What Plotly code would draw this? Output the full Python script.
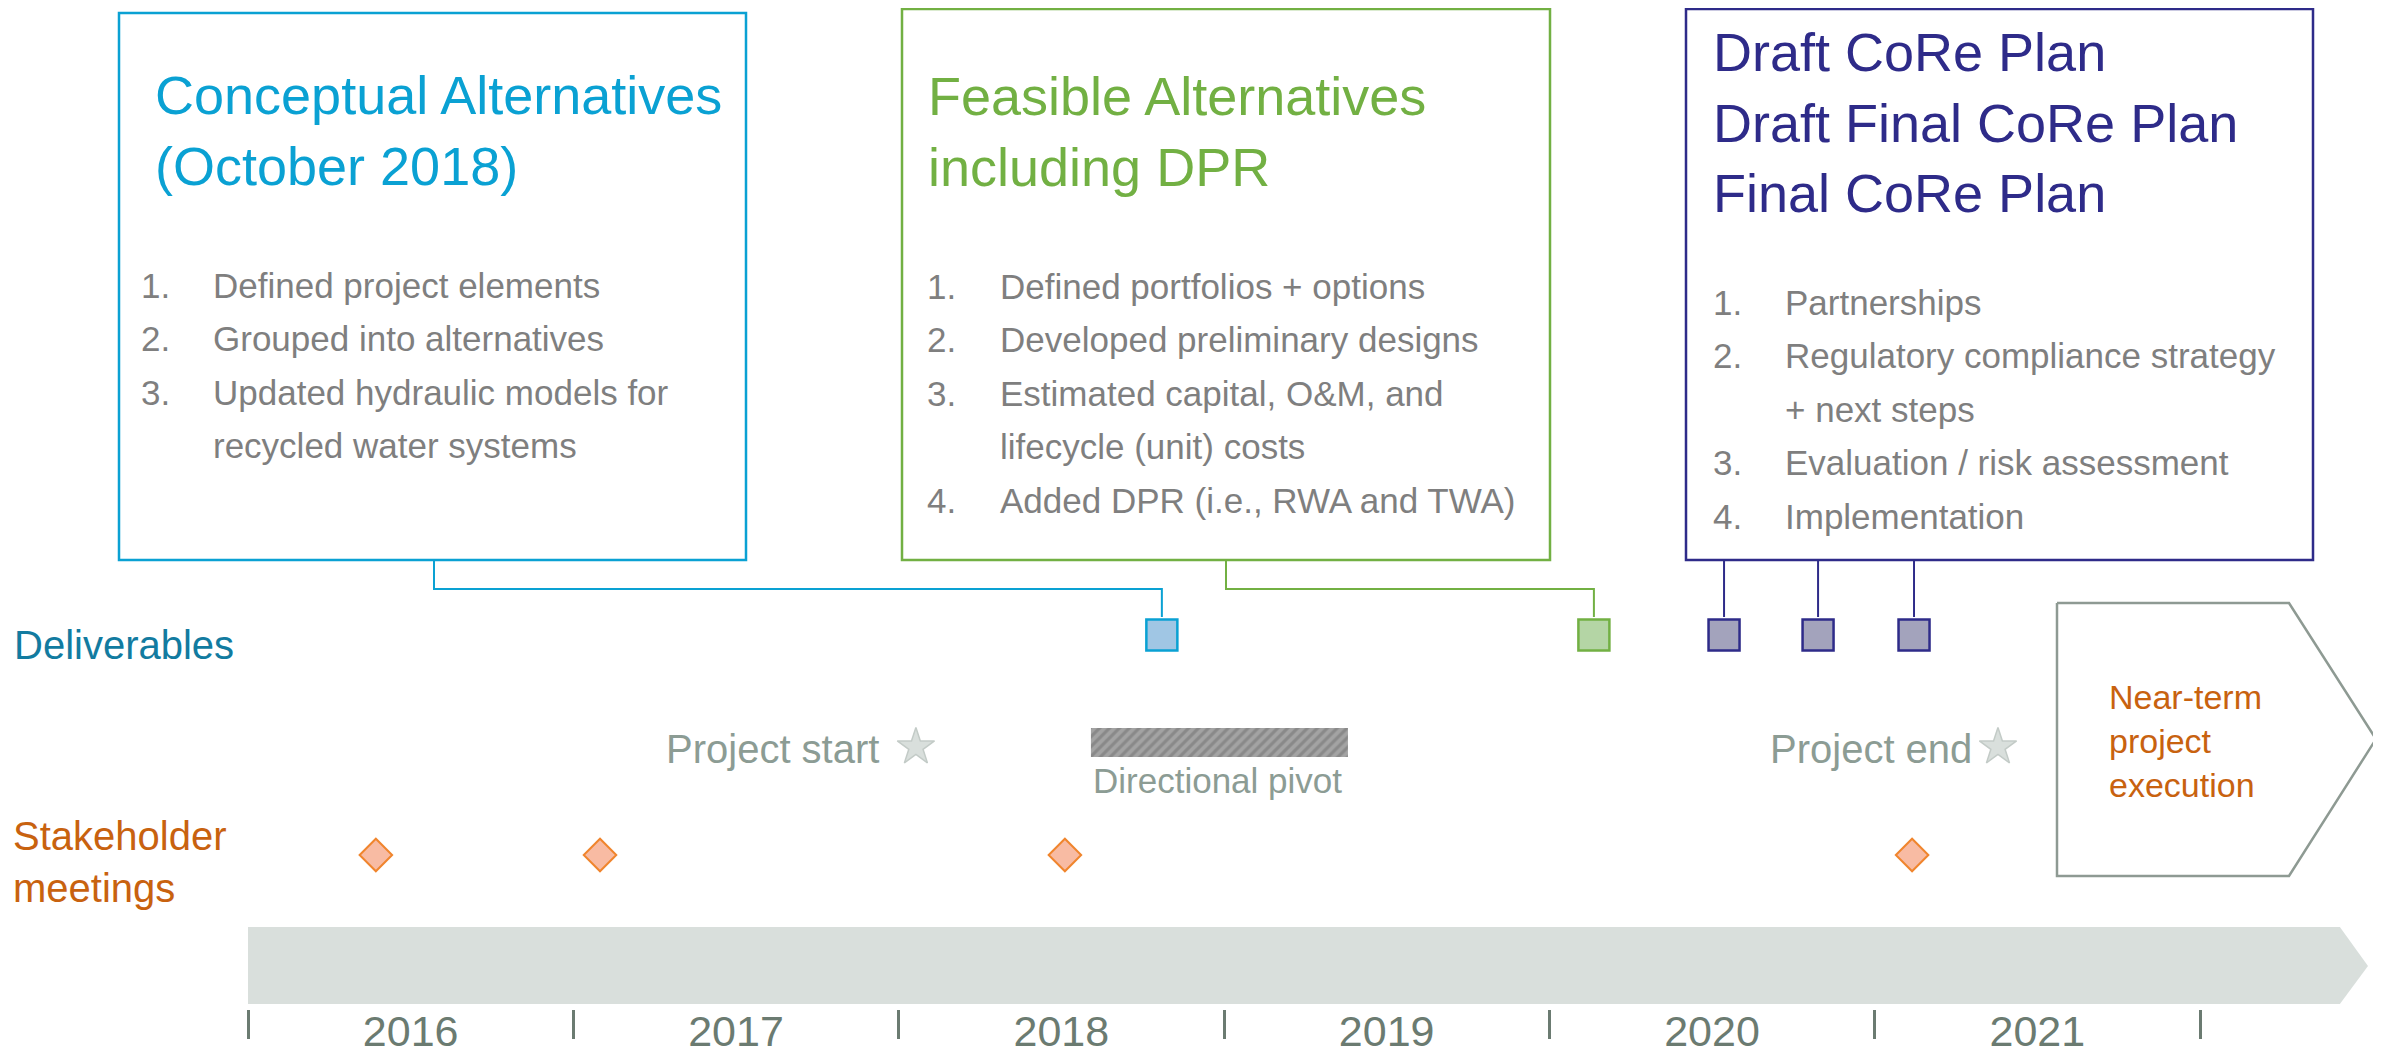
import plotly.graph_objects as go

# ---- data (decimal years) ----
years = [2016, 2017, 2018, 2019, 2020, 2021]
deliverable_dates = [2018.809, 2020.137, 2020.537, 2020.826, 2021.121]
deliverable_phase = [0, 1, 2, 2, 2]
meeting_dates = [2016.393, 2017.082, 2018.511, 2021.115]
milestone_names = ["Project start", "Project end"]
milestone_dates = [2018.053, 2021.379]
pivot_start, pivot_end = 2018.591, 2019.381
timeline_end = 2022.43

phase_titles = [
    ["Conceptual Alternatives", "(October 2018)"],
    ["Feasible Alternatives", "including DPR"],
    ["Draft CoRe Plan", "Draft Final CoRe Plan", "Final CoRe Plan"],
]
phase_items = [
    ["Defined project elements",
     "Grouped into alternatives",
     "Updated hydraulic models for<br>recycled water systems"],
    ["Defined portfolios + options",
     "Developed preliminary designs",
     "Estimated capital, O&M, and<br>lifecycle (unit) costs",
     "Added DPR (i.e., RWA and TWA)"],
    ["Partnerships",
     "Regulatory compliance strategy<br>+ next steps",
     "Evaluation / risk assessment",
     "Implementation"],
]

# ---- styling ----
FONT = "Liberation Sans"
BLUE, GREEN, PURPLE = "#0aa1d3", "#72b043", "#2e2b89"
FILLS = ["#a0c6e4", "#b4d5a5", "#a3a3bc"]
COLORS = [BLUE, GREEN, PURPLE]
GREY_TXT = "#7f7f7f"
SAGE = "#8c9c94"
YEAR_C = "#6b7b71"
ORANGE = "#c8620f"
BAR_C = "#d9dfdc"

# page body keeps its default 8px margin, so the figure starts at (8, 8)
OFF = 8
W, H = 2381 - OFF, 1052 - OFF
PLOT_BOTTOM = 1009          # screen px where the timeline axis sits
PX_PER_YEAR = (2200 - 248) / 6
X0 = 2016 - 248 / PX_PER_YEAR   # axis value at screen x = 0


def xr(px):
    # layout position (screen px from left) -> timeline axis value
    return X0 + px / PX_PER_YEAR


# box layout in screen px
boxes = [
    dict(x0=119, x1=746, y0=13, y1=560, anchor=434, title_y=95, item_y=285, tx=153, nx=139, ix=211),
    dict(x0=902, x1=1550, y0=9, y1=560, anchor=1226, title_y=96, item_y=286, tx=926, nx=925, ix=998),
    dict(x0=1686, x1=2313, y0=9, y1=560, anchor=None, title_y=52, item_y=302, tx=1711, nx=1711, ix=1783),
]
ELBOW_Y, SQ_TOP, SQ_Y = 589, 617, 635
MEET_Y, MILE_Y = 855, 747

fig = go.Figure()

# timeline arrow
fig.add_trace(go.Scatter(
    x=[years[0], timeline_end, xr(2368), timeline_end, years[0], years[0]],
    y=[927, 927, 966, 1004, 1004, 927],
    fill="toself", fillcolor=BAR_C, mode="lines", line=dict(width=0, color=BAR_C),
    hoverinfo="skip"))

# near-term execution pentagon
fig.add_trace(go.Scatter(
    x=[xr(2057), xr(2289), xr(2376), xr(2289), xr(2057), xr(2057)],
    y=[603, 603, 739, 876, 876, 603],
    fill="toself", fillcolor="white", mode="lines", line=dict(width=2.5, color="#8e9a93"),
    hoverinfo="skip"))

shapes = []
annotations = []

for i, b in enumerate(boxes):
    c = COLORS[i]
    shapes.append(dict(type="rect", xref="x", yref="y", x0=xr(b["x0"]), x1=xr(b["x1"]),
                       y0=b["y0"], y1=b["y1"], line=dict(color=c, width=2.5)))
    # connectors to deliverables of this phase
    for d, p in zip(deliverable_dates, deliverable_phase):
        if p != i:
            continue
        if b["anchor"] is not None:
            cx = [xr(b["anchor"]), xr(b["anchor"]), d, d]
            cy = [b["y1"], ELBOW_Y, ELBOW_Y, SQ_TOP]
        else:
            cx = [d, d]
            cy = [b["y1"], SQ_TOP]
        fig.add_trace(go.Scatter(x=cx, y=cy, mode="lines", line=dict(color=c, width=2),
                                 hoverinfo="skip"))
    # titles
    for k, t in enumerate(phase_titles[i]):
        annotations.append(dict(x=xr(b["tx"]), y=b["title_y"] + 70.5 * k, text=t,
                                xanchor="left", yanchor="middle", showarrow=False,
                                font=dict(size=54, color=c, family=FONT)))
    # numbered items
    row = 0
    for n, item in enumerate(phase_items[i]):
        for j, line in enumerate(item.split("<br>")):
            y = b["item_y"] + 53.5 * row
            if j == 0:
                annotations.append(dict(x=xr(b["nx"]), y=y, text=f"{n + 1}.", xanchor="left",
                                        yanchor="middle", showarrow=False,
                                        font=dict(size=35, color=GREY_TXT, family=FONT)))
            annotations.append(dict(x=xr(b["ix"]), y=y, text=line, xanchor="left",
                                    yanchor="middle", showarrow=False,
                                    font=dict(size=35, color=GREY_TXT, family=FONT)))
            row += 1

# deliverable squares
for i in range(3):
    xs = [d for d, p in zip(deliverable_dates, deliverable_phase) if p == i]
    fig.add_trace(go.Scatter(
        x=xs, y=[SQ_Y] * len(xs), mode="markers",
        marker=dict(symbol="square", size=31, color=FILLS[i], line=dict(color=COLORS[i], width=2.5)),
        hoverinfo="x"))

# stakeholder meetings
fig.add_trace(go.Scatter(
    x=meeting_dates, y=[MEET_Y] * len(meeting_dates), mode="markers",
    marker=dict(symbol="diamond", size=25, color="#f8bba3", line=dict(color="#f0852d", width=2)),
    hoverinfo="x"))

# milestones
fig.add_trace(go.Scatter(
    x=milestone_dates, y=[MILE_Y] * len(milestone_dates), mode="markers",
    marker=dict(symbol="star", size=28, color=BAR_C, line=dict(color="#c3cbc7", width=1.5)),
    hoverinfo="x"))
for name, d, gap in zip(milestone_names, milestone_dates, [35, 24]):
    annotations.append(dict(x=d, y=MILE_Y + 2, text=name, xanchor="right", yanchor="middle",
                            xshift=-gap, showarrow=False,
                            font=dict(size=40, color=SAGE, family=FONT)))

# directional pivot (hatched)
fig.add_trace(go.Bar(
    base=[pivot_start], x=[pivot_end - pivot_start], y=[742.5], width=[29], orientation="h",
    marker=dict(color="#a3a3a3", line=dict(width=0),
                pattern=dict(shape="/", fgcolor="#6f6f6f", bgcolor="#a3a3a3", size=7, solidity=0.45)),
    hoverinfo="skip"))
annotations.append(dict(x=pivot_start, y=780, text="Directional pivot", xanchor="left",
                        yanchor="middle", showarrow=False,
                        font=dict(size=35, color=SAGE, family=FONT)))

# lane labels
annotations.append(dict(x=xr(12), y=645, text="Deliverables", xanchor="left",
                        yanchor="middle", showarrow=False,
                        font=dict(size=40, color="#127ba0", family=FONT)))
annotations.append(dict(x=xr(11), y=862, text="Stakeholder<br>meetings",
                        xanchor="left", yanchor="middle", align="left", showarrow=False,
                        font=dict(size=40, color=ORANGE, family=FONT)))
annotations.append(dict(x=xr(2107), y=741, text="Near-term<br>project<br>execution",
                        xanchor="left", yanchor="middle", align="left", showarrow=False,
                        font=dict(size=34, color=ORANGE, family=FONT)))

for a in annotations:
    a.setdefault("xref", "x")
    a.setdefault("yref", "y")

fig.update_layout(
    width=W, height=H,
    margin=dict(l=0, r=0, t=0, b=H - (PLOT_BOTTOM - OFF), autoexpand=False),
    paper_bgcolor="white", plot_bgcolor="white",
    showlegend=False,
    font=dict(family=FONT),
    shapes=shapes, annotations=annotations,
    xaxis=dict(range=[xr(OFF), xr(OFF + W)], showgrid=False, zeroline=False, showline=False,
               tickmode="array", tickvals=[y + 0.5 for y in years], ticktext=[str(y) for y in years],
               ticks="", ticklen=0, ticklabelstandoff=-7,
               tickfont=dict(size=43, color=YEAR_C, family=FONT),
               minor=dict(tickmode="array", tickvals=years + [years[-1] + 1], ticks="outside",
                          ticklen=29, tickwidth=2.5, tickcolor=YEAR_C, showgrid=False),
               fixedrange=True),
    yaxis=dict(range=[PLOT_BOTTOM, OFF], visible=False, fixedrange=True),
)

fig.write_html("out.html")
